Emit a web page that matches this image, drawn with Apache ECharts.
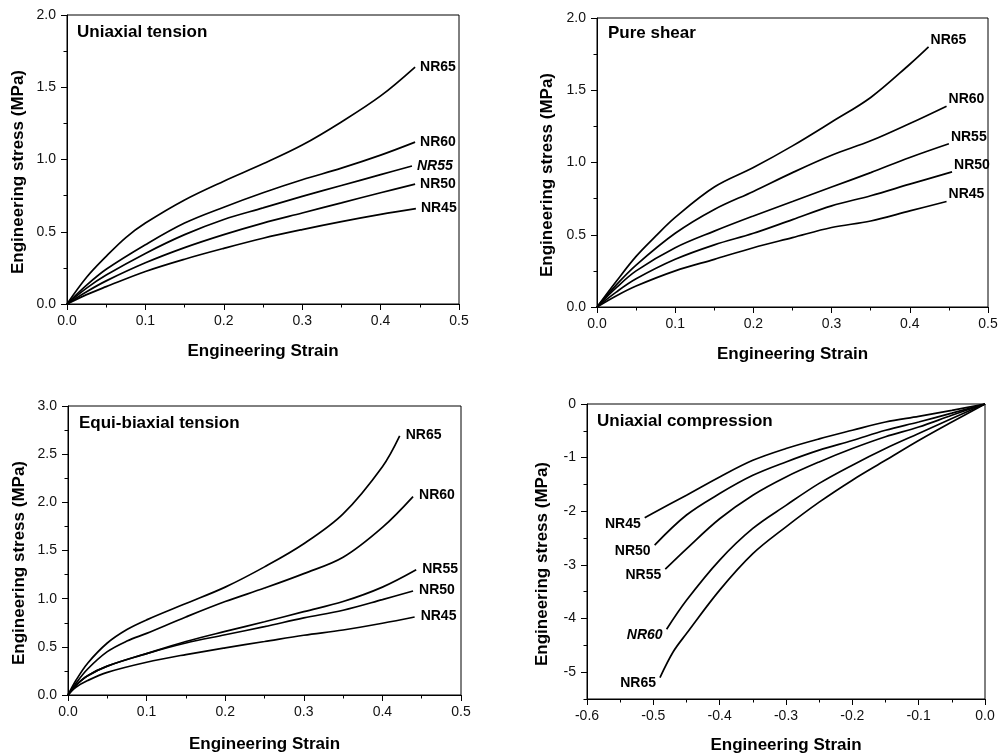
<!DOCTYPE html>
<html>
<head>
<meta charset="utf-8">
<script src="https://cdn.jsdelivr.net/npm/echarts@6/dist/echarts.min.js"></script>
<style>
html,body{margin:0;padding:0;background:#fff;}
#chart{width:1002px;height:755px;}
</style>
</head>
<body>
<div id="chart"></div>
<script>
// ---------- DATA ----------
const seriesNames = ['NR65', 'NR60', 'NR55', 'NR50', 'NR45'];
const panelTitles = ['Uniaxial tension', 'Pure shear', 'Equi-biaxial tension', 'Uniaxial compression'];
const xAxisTitle = 'Engineering Strain';
const yAxisTitle = 'Engineering stress (MPa)';

// Uniaxial tension [strain, stress]
const UT_NR65 = [[0,0],[0.025,0.185],[0.05,0.33],[0.075,0.46],[0.1,0.56],[0.15,0.72],[0.2,0.85],[0.25,0.97],[0.3,1.10],[0.35,1.26],[0.4,1.44],[0.444,1.64]];
const UT_NR60 = [[0,0],[0.025,0.13],[0.05,0.24],[0.1,0.41],[0.15,0.56],[0.2,0.67],[0.25,0.77],[0.3,0.86],[0.35,0.94],[0.4,1.03],[0.444,1.12]];
const UT_NR55 = [[0,0],[0.025,0.11],[0.05,0.20],[0.1,0.35],[0.15,0.48],[0.2,0.585],[0.25,0.665],[0.3,0.745],[0.35,0.82],[0.4,0.895],[0.44,0.955]];
const UT_NR50 = [[0,0],[0.025,0.085],[0.05,0.16],[0.1,0.285],[0.15,0.39],[0.2,0.48],[0.25,0.56],[0.3,0.63],[0.35,0.70],[0.4,0.77],[0.444,0.83]];
const UT_NR45 = [[0,0],[0.025,0.065],[0.05,0.12],[0.1,0.225],[0.15,0.31],[0.2,0.385],[0.25,0.455],[0.3,0.515],[0.35,0.57],[0.4,0.62],[0.445,0.66]];

// Pure shear
const PS_NR65 = [[0,0],[0.025,0.18],[0.05,0.35],[0.075,0.49],[0.1,0.62],[0.15,0.83],[0.2,0.965],[0.25,1.115],[0.3,1.28],[0.35,1.45],[0.4,1.68],[0.424,1.80]];
const PS_NR60 = [[0,0],[0.025,0.155],[0.05,0.29],[0.1,0.51],[0.15,0.675],[0.2,0.80],[0.25,0.93],[0.3,1.05],[0.35,1.15],[0.4,1.27],[0.447,1.39]];
const PS_NR55 = [[0,0],[0.025,0.135],[0.05,0.25],[0.1,0.41],[0.15,0.525],[0.2,0.63],[0.25,0.73],[0.3,0.83],[0.35,0.93],[0.4,1.035],[0.45,1.13]];
const PS_NR50 = [[0,0],[0.025,0.105],[0.05,0.195],[0.1,0.33],[0.15,0.43],[0.2,0.51],[0.25,0.605],[0.3,0.70],[0.35,0.77],[0.4,0.85],[0.454,0.935]];
const PS_NR45 = [[0,0],[0.025,0.078],[0.05,0.145],[0.1,0.25],[0.15,0.33],[0.2,0.41],[0.25,0.48],[0.3,0.55],[0.35,0.595],[0.4,0.665],[0.447,0.73]];

// Equi-biaxial tension
const EB_NR65 = [[0,0],[0.01,0.15],[0.025,0.33],[0.05,0.54],[0.075,0.68],[0.1,0.78],[0.15,0.95],[0.2,1.12],[0.25,1.33],[0.3,1.57],[0.35,1.88],[0.4,2.37],[0.422,2.69]];
const EB_NR60 = [[0,0],[0.01,0.12],[0.025,0.27],[0.05,0.45],[0.075,0.56],[0.1,0.64],[0.15,0.81],[0.2,0.97],[0.25,1.11],[0.3,1.26],[0.35,1.43],[0.4,1.74],[0.439,2.06]];
const EB_NR55 = [[0,0],[0.01,0.10],[0.025,0.20],[0.05,0.30],[0.1,0.43],[0.15,0.555],[0.2,0.66],[0.25,0.76],[0.3,0.865],[0.35,0.97],[0.4,1.12],[0.443,1.30]];
const EB_NR50 = [[0,0],[0.01,0.10],[0.025,0.20],[0.05,0.30],[0.1,0.43],[0.15,0.54],[0.2,0.625],[0.25,0.71],[0.3,0.80],[0.35,0.88],[0.4,0.99],[0.439,1.08]];
const EB_NR45 = [[0,0],[0.01,0.08],[0.025,0.15],[0.05,0.235],[0.1,0.34],[0.15,0.42],[0.2,0.49],[0.25,0.555],[0.3,0.62],[0.35,0.675],[0.4,0.745],[0.441,0.81]];

// Uniaxial compression (from 0 toward negative strain)
const UC_NR65 = [[0,0],[-0.05,-0.335],[-0.1,-0.68],[-0.15,-1.05],[-0.2,-1.42],[-0.25,-1.83],[-0.3,-2.29],[-0.35,-2.79],[-0.4,-3.47],[-0.45,-4.28],[-0.47,-4.62],[-0.49,-5.10]];
const UC_NR60 = [[0,0],[-0.05,-0.27],[-0.1,-0.55],[-0.15,-0.83],[-0.2,-1.14],[-0.25,-1.48],[-0.3,-1.89],[-0.35,-2.32],[-0.4,-2.91],[-0.45,-3.66],[-0.48,-4.20]];
const UC_NR55 = [[0,0],[-0.05,-0.21],[-0.1,-0.43],[-0.15,-0.61],[-0.2,-0.83],[-0.25,-1.08],[-0.3,-1.36],[-0.35,-1.70],[-0.4,-2.14],[-0.45,-2.70],[-0.482,-3.08]];
const UC_NR50 = [[0,0],[-0.05,-0.17],[-0.1,-0.335],[-0.15,-0.49],[-0.2,-0.68],[-0.25,-0.86],[-0.3,-1.08],[-0.35,-1.33],[-0.4,-1.67],[-0.45,-2.07],[-0.498,-2.63]];
const UC_NR45 = [[0,0],[-0.05,-0.12],[-0.1,-0.23],[-0.15,-0.335],[-0.2,-0.49],[-0.25,-0.65],[-0.3,-0.83],[-0.35,-1.05],[-0.4,-1.36],[-0.45,-1.70],[-0.5,-2.03],[-0.513,-2.12]];

const panelData = [
  [UT_NR65, UT_NR60, UT_NR55, UT_NR50, UT_NR45],
  [PS_NR65, PS_NR60, PS_NR55, PS_NR50, PS_NR45],
  [EB_NR65, EB_NR60, EB_NR55, EB_NR50, EB_NR45],
  [UC_NR65, UC_NR60, UC_NR55, UC_NR50, UC_NR45]
];

// axis ranges / ticks
const xRanges = [[0,0.5,0.1],[0,0.5,0.1],[0,0.5,0.1],[-0.6,0,0.1]];
const yRanges = [[0,2,0.5],[0,2,0.5],[0,3,0.5],[-5.5,0,0.5]];
const ucMajorYTicks = [0,-1,-2,-3,-4,-5];

// ---------- LAYOUT / STYLE ----------
const FONT = '"Liberation Sans", Arial, Helvetica, sans-serif';
const grids = [
  {left:67, top:15, width:392, height:289},
  {left:597, top:18, width:391, height:289},
  {left:68, top:406, width:393, height:289},
  {left:587, top:404, width:398, height:295}
];
const titlePos = [
  {left:77, top:24},
  {left:608, top:25},
  {left:79, top:415},
  {left:597, top:413}
];
const yNameGap = [40, 41, 40, 36];
const xNameGap = [39, 39, 41, 38];
const italicLabel = [[2],[],[],[1]];
// label placement per panel
const labelCfg = [
  {position:'right', distance:5, offset:[0,0]},
  {position:'right', distance:2, offset:[0,-7]},
  {position:'right', distance:6, offset:[0,-1]},
  {position:'left', distance:4, offset:[0,6]}
];

const grid = grids.map(g => Object.assign({show:true, borderColor:'#000', borderWidth:1, backgroundColor:'transparent'}, g));

const title = panelTitles.map((t,i) => ({
  text: t, left: titlePos[i].left, top: titlePos[i].top, padding: 0,
  textStyle: {fontFamily: FONT, fontSize: 17, fontWeight: 'bold', color: '#000'}
}));

const xAxis = xRanges.map((r, i) => ({
  type: 'value', gridIndex: i, position: 'bottom', min: r[0], max: r[1], interval: r[2],
  name: xAxisTitle, nameLocation: 'middle', nameGap: xNameGap[i],
  nameTextStyle: {fontFamily: FONT, fontSize: 17, fontWeight: 'bold', color: '#000'},
  axisLine: {show: true, onZero: false, lineStyle: {color: '#000', width: 1}},
  axisTick: {show: true, inside: false, length: 6, lineStyle: {color: '#000'}},
  minorTick: {show: true, splitNumber: 2, length: 3.5, lineStyle: {color: '#000'}},
  splitLine: {show: false},
  axisLabel: {fontFamily: FONT, fontSize: 14, color: '#111', margin: 10,
    formatter: v => v.toFixed(1)}
}));

const yAxis = [];
yRanges.forEach((r, i) => {
  const base = {
    type: 'value', gridIndex: i, position: 'left', min: r[0], max: r[1], interval: r[2],
    name: yAxisTitle, nameLocation: 'middle', nameGap: yNameGap[i], nameRotate: 90,
    nameTextStyle: {fontFamily: FONT, fontSize: 17, fontWeight: 'bold', color: '#000', padding: [0, 25, 0, 0]},
    axisLine: {show: true, onZero: false, lineStyle: {color: '#000', width: 1}},
    axisTick: {show: true, inside: false, length: 6, lineStyle: {color: '#000'}},
    minorTick: {show: true, splitNumber: 2, length: 3.5, lineStyle: {color: '#000'}},
    splitLine: {show: false},
    axisLabel: {fontFamily: FONT, fontSize: 14, color: '#111', margin: 11,
      formatter: v => v.toFixed(1)}
  };
  if (i === 3) {
    base.axisTick = {show: true, inside: false, length: 3.5, lineStyle: {color: '#000'}};
    base.minorTick = {show: false};
    base.axisLabel = {fontFamily: FONT, fontSize: 14, color: '#111', margin: 11,
      customValues: ucMajorYTicks, formatter: v => String(Math.round(v))};
  }
  yAxis.push(base);
});
// overlay axis for the major ticks of the compression panel
yAxis.push({
  type: 'value', gridIndex: 3, position: 'left', offset: 0,
  min: yRanges[3][0], max: yRanges[3][1], interval: yRanges[3][2],
  axisLine: {show: false, onZero: false}, splitLine: {show: false}, axisLabel: {show: false},
  axisTick: {show: true, inside: false, length: 6, customValues: ucMajorYTicks, lineStyle: {color: '#000'}}
});

const series = [];
panelData.forEach((arrs, p) => {
  arrs.forEach((arr, k) => {
    const endIdx = arr.length - 1;
    const lc = labelCfg[p];
    const data = arr.map((pt, j) => j === endIdx ? {
      value: pt,
      label: {
        show: true, formatter: seriesNames[k], position: lc.position, distance: lc.distance, offset: lc.offset,
        fontFamily: FONT, fontSize: 14, fontWeight: 'bold', color: '#000',
        fontStyle: italicLabel[p].indexOf(k) >= 0 ? 'italic' : 'normal'
      }
    } : pt);
    series.push({
      type: 'line', name: seriesNames[k], xAxisIndex: p, yAxisIndex: p,
      data: data, smooth: 0.35, showSymbol: true, symbol: 'circle', symbolSize: 0,
      lineStyle: {color: '#000', width: 1.7}, itemStyle: {color: '#000'},
      emphasis: {disabled: true}, silent: true, z: 3
    });
  });
});

const chart = echarts.init(document.getElementById('chart'), null, {renderer: 'canvas'});
chart.setOption({
  animation: false,
  backgroundColor: '#fff',
  title: title,
  grid: grid,
  xAxis: xAxis,
  yAxis: yAxis,
  series: series
});
</script>
</body>
</html>
